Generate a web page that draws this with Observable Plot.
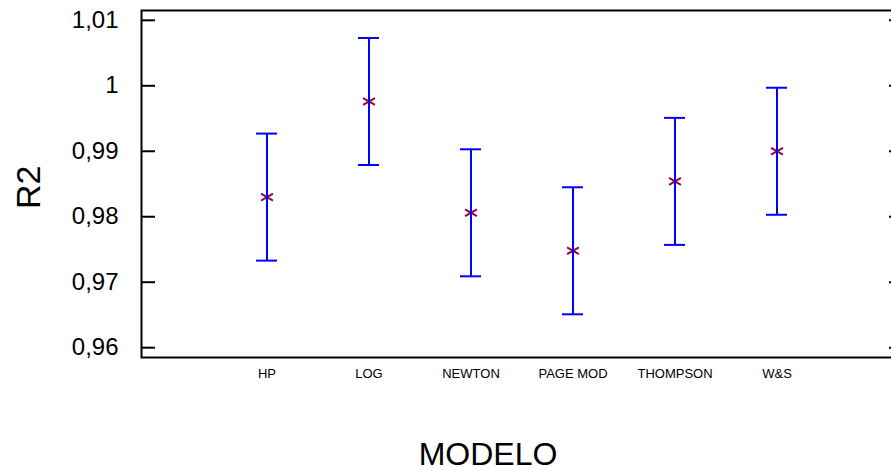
<!DOCTYPE html>
<html>
<head>
<meta charset="utf-8">
<script src="https://cdn.jsdelivr.net/npm/d3@7"></script>
<script src="https://cdn.jsdelivr.net/npm/@observablehq/plot@0.6"></script>
<style>
  body { margin: 0; background: #fff; overflow: hidden; }
</style>
</head>
<body>
<div id="chart"></div>
<script>
// R2 por modelo: media e intervalo
const models = ["HP", "LOG", "NEWTON", "PAGE MOD", "THOMPSON", "W&S"];
const means  = [0.9830, 0.9976, 0.9806, 0.9748, 0.9854, 0.9900];
const lower  = [0.9733, 0.9879, 0.9709, 0.9651, 0.9757, 0.9803];
const upper  = [0.9927, 1.0073, 0.9903, 0.9845, 0.9951, 0.9997];
const yTicks = [0.96, 0.97, 0.98, 0.99, 1.00, 1.01];

const rows = models.map((m, i) => ({model: m, mean: means[i], lo: lower[i], hi: upper[i]}));

// decimal comma: 0,99 / 1 / 1,01
const fmt = d => String(+d.toFixed(2)).replace(".", ",");

const blue = "#0000ff";
const star = "#8b0a4f";

const chart = Plot.plot({
  width: 891,
  height: 471,
  marginLeft: 141,
  marginRight: -11,
  marginTop: 10,
  marginBottom: 114,
  // narrow bands: the band width sets the width of the interval caps
  x: {type: "band", domain: models, paddingInner: 0.7955, paddingOuter: 1.103},
  y: {domain: [0.9585, 1.0115]},
  style: {fontFamily: "'Liberation Sans', Arial, sans-serif", color: "black", background: "white"},
  marks: [
    Plot.frame({stroke: "black", strokeWidth: 2}),
    Plot.axisY(yTicks, {anchor: "left", tickSize: -14, tickPadding: 37, strokeWidth: 2, tickFormat: fmt, fontSize: 24, label: null}),
    Plot.axisY(yTicks, {anchor: "right", tickSize: -14, strokeWidth: 2, fill: "none", label: null}),
    Plot.axisX({tickSize: 0, tickPadding: 11, fontSize: 13, label: null}),
    Plot.dot(rows, {x: "model", y: "mean", symbol: "asterisk", r: 6.5, stroke: star, strokeWidth: 2}),
    Plot.ruleX(rows, {x: "model", y1: "lo", y2: "hi", stroke: blue, strokeWidth: 2}),
    Plot.tickY(rows, {x: "model", y: "lo", stroke: blue, strokeWidth: 2}),
    Plot.tickY(rows, {x: "model", y: "hi", stroke: blue, strokeWidth: 2}),
    Plot.text(["R2"], {text: d => d, frameAnchor: "left", rotate: -90, dx: -112, dy: 25, fontSize: 34}),
    Plot.text(["MODELO"], {text: d => d, frameAnchor: "bottom", dx: -34, dy: 107, fontSize: 32})
  ]
});

document.getElementById("chart").appendChild(chart);
</script>
</body>
</html>
